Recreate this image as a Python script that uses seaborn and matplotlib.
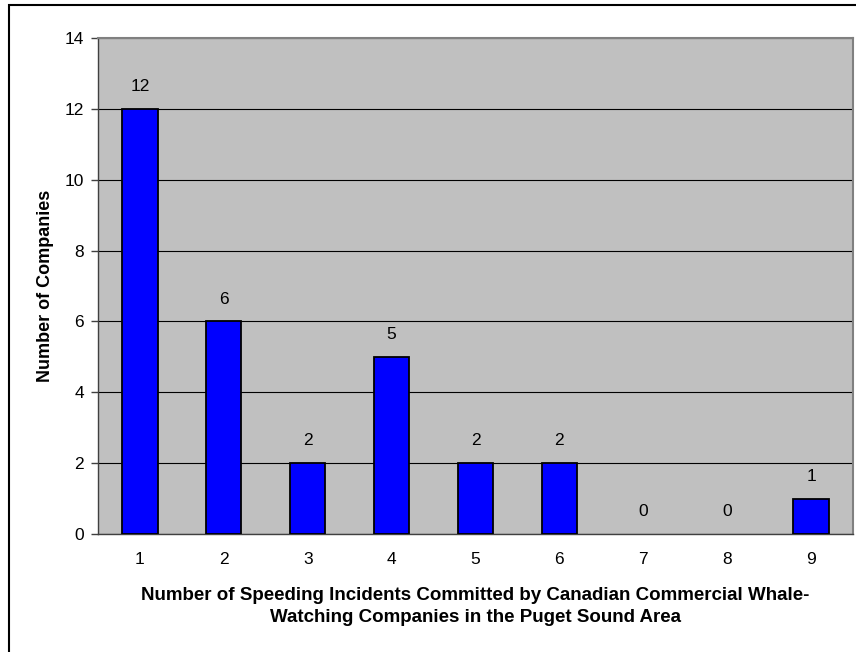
import numpy as np
import pandas as pd
import matplotlib
matplotlib.use('Agg')
import matplotlib.pyplot as plt
import seaborn as sns
from matplotlib.patches import Rectangle

incidents = ['1', '2', '3', '4', '5', '6', '7', '8', '9']
companies = [12, 6, 2, 5, 2, 2, 0, 0, 1]

df = pd.DataFrame({'Incidents': incidents, 'Companies': companies})

sns.set_style('white')
plt.rcParams['font.family'] = ['Liberation Sans', 'DejaVu Sans']
plt.rcParams['text.color'] = 'black'
plt.rcParams['axes.labelcolor'] = 'black'
plt.rcParams['xtick.color'] = 'black'
plt.rcParams['ytick.color'] = 'black'

fig = plt.figure(figsize=(8.56, 6.52), dpi=100)
ax = fig.add_axes([98 / 856, 1 - 534 / 652, (853 - 98) / 856, (534 - 38) / 652])
ax.set_facecolor('#C0C0C0')

sns.barplot(data=df, x='Incidents', y='Companies', color='#0000FF',
            saturation=1, width=0.42, edgecolor='black', linewidth=1.3, ax=ax, zorder=3)

# empty bars are not drawn in the original
for p in ax.patches:
    if p.get_height() == 0:
        p.set_visible(False)

ax.set_ylim(0, 14)
ax.set_xlim(-0.5, len(incidents) - 0.5)
ax.set_yticks(range(0, 15, 2))
ax.yaxis.grid(True, color='black', linewidth=0.8, zorder=0)
ax.set_axisbelow(True)

# category ticks between bars, like the original
ax.set_xticks(np.arange(len(incidents)))
ax.set_xticks(np.arange(len(incidents) + 1) - 0.5, minor=True)
ax.tick_params(axis='x', which='major', length=0, pad=13, labelsize=12.5)
ax.tick_params(axis='x', which='minor', length=5, width=1, color='#404040', direction='out')
ax.tick_params(axis='y', length=5, width=1, color='#404040', direction='out', labelsize=12.5, pad=5)
ax.tick_params(bottom=True, left=True)

for side in ['left', 'bottom']:
    ax.spines[side].set_color('#404040')
    ax.spines[side].set_linewidth(1)
for side in ['top', 'right']:
    ax.spines[side].set_color('#808080')
    ax.spines[side].set_linewidth(1.5)

for i, v in enumerate(companies):
    ax.annotate(str(v), (i, v), xytext=(0, 16), textcoords='offset points',
                ha='center', va='center', fontsize=12.5)

ax.set_xlabel('Number of Speeding Incidents Committed by Canadian Commercial Whale-\n'
              'Watching Companies in the Puget Sound Area',
              fontsize=13.5, fontweight='bold', labelpad=14, linespacing=1.45)
ax.set_ylabel('Number of Companies', fontsize=13, fontweight='bold', labelpad=8)

fig.patches.append(Rectangle((9 / 856, -0.1), 2, 1.1 - 5 / 652, transform=fig.transFigure,
                             fill=False, edgecolor='black', linewidth=1.5))

plt.savefig('out.png', dpi=100)
